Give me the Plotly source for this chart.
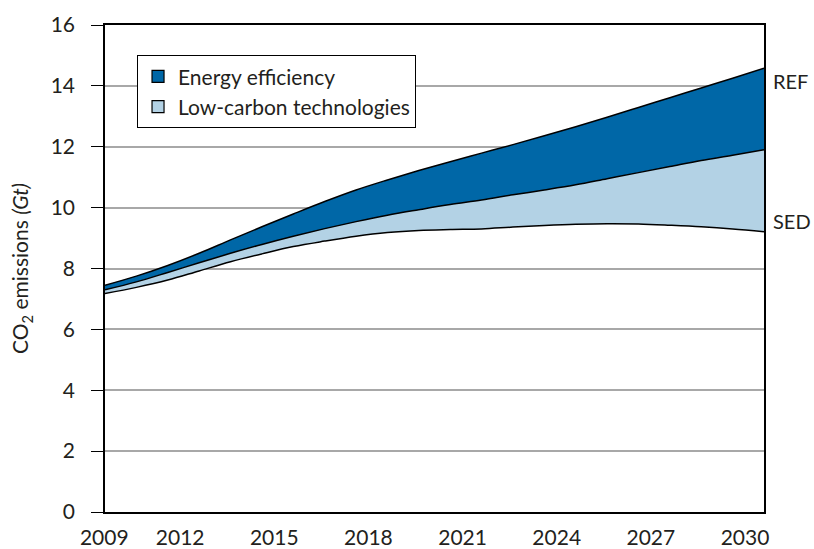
import plotly.graph_objects as go

years = list(range(2009, 2031))
ref = [7.45, 7.75, 8.10, 8.50, 8.94, 9.37, 9.79, 10.20, 10.58, 10.91, 11.22,
       11.51, 11.79, 12.07, 12.36, 12.66, 12.97, 13.29, 13.61, 13.93, 14.25, 14.58]
low_carbon_top = [7.30, 7.56, 7.87, 8.19, 8.50, 8.79, 9.06, 9.31, 9.54, 9.75, 9.93,
                  10.10, 10.25, 10.42, 10.58, 10.75, 10.95, 11.15, 11.35, 11.55, 11.72, 11.90]
sed = [7.18, 7.38, 7.62, 7.92, 8.22, 8.48, 8.72, 8.90, 9.06, 9.18, 9.25,
       9.28, 9.30, 9.36, 9.41, 9.45, 9.47, 9.46, 9.42, 9.37, 9.30, 9.21]
xtick_years = [2009, 2012, 2015, 2018, 2021, 2024, 2027, 2030]
ytick_vals = [0, 2, 4, 6, 8, 10, 12, 14, 16]

DARK = "#0067a7"
LIGHT = "#b3d2e5"
FONT = "Lato"
TXT = "#231f20"
LINE = dict(color="black", width=1.5, shape="spline", smoothing=1.0)

fig = go.Figure()
fig.add_trace(go.Scatter(x=years, y=sed, mode="lines", line=LINE,
                         showlegend=False, hoverinfo="skip"))
fig.add_trace(go.Scatter(x=years, y=low_carbon_top, mode="lines", fill="tonexty", fillcolor=LIGHT,
                         line=LINE, showlegend=False, hoverinfo="skip"))
fig.add_trace(go.Scatter(x=years, y=ref, mode="lines", fill="tonexty", fillcolor=DARK,
                         line=LINE, showlegend=False, hoverinfo="skip"))
# legend entries
fig.add_trace(go.Bar(x=[None], y=[None], name="Energy efficiency",
                     marker=dict(color=DARK, line=dict(color="black", width=1.2))))
fig.add_trace(go.Bar(x=[None], y=[None], name="Low-carbon technologies",
                     marker=dict(color=LIGHT, line=dict(color="black", width=1.2))))

xtick_text = [str(y) for y in xtick_years]
xtick_text[0] = "\u2007\u2007\u2007" + xtick_text[0]

fig.update_layout(
    width=814, height=549,
    margin=dict(l=105, r=50, t=25, b=37),
    plot_bgcolor="white", paper_bgcolor="white",
    font=dict(family=FONT, size=21, color=TXT),
    showlegend=True,
    legend=dict(x=0.0486, y=0.938, xanchor="left", yanchor="top",
                bordercolor="black", borderwidth=1, bgcolor="white",
                font=dict(size=21), traceorder="normal", tracegroupgap=0),
    xaxis=dict(range=[2009, 2030], tickvals=xtick_years, ticktext=xtick_text, automargin=False,
               showgrid=False, zeroline=False, showline=True, linecolor="black", linewidth=1.5,
               mirror=True, ticks="", ticklabelshift=-19, ticklabelstandoff=6,
               tickfont=dict(size=21)),
    yaxis=dict(range=[0, 16], tickvals=ytick_vals, showgrid=True, gridcolor="#a8a8a8", gridwidth=1.5,
               automargin=False,
               zeroline=False, showline=True, linecolor="black", linewidth=1.5, mirror=True,
               ticks="outside", ticklen=12, tickwidth=1.2, tickcolor="black", ticklabelstandoff=12,
               tickfont=dict(size=21),
               title=dict(text="CO<sub>2</sub> emissions <i>(Gt)</i>", standoff=16, font=dict(size=21))),
    annotations=[
        dict(x=1.011, y=14.15, xref="paper", yref="y", text="REF", showarrow=False,
             xanchor="left", yanchor="middle", font=dict(size=20)),
        dict(x=1.011, y=9.55, xref="paper", yref="y", text="SED", showarrow=False,
             xanchor="left", yanchor="middle", font=dict(size=20)),
    ],
)

fig.write_html("out.html", config={"displayModeBar": False},
               post_script="document.body.style.margin='0';")
